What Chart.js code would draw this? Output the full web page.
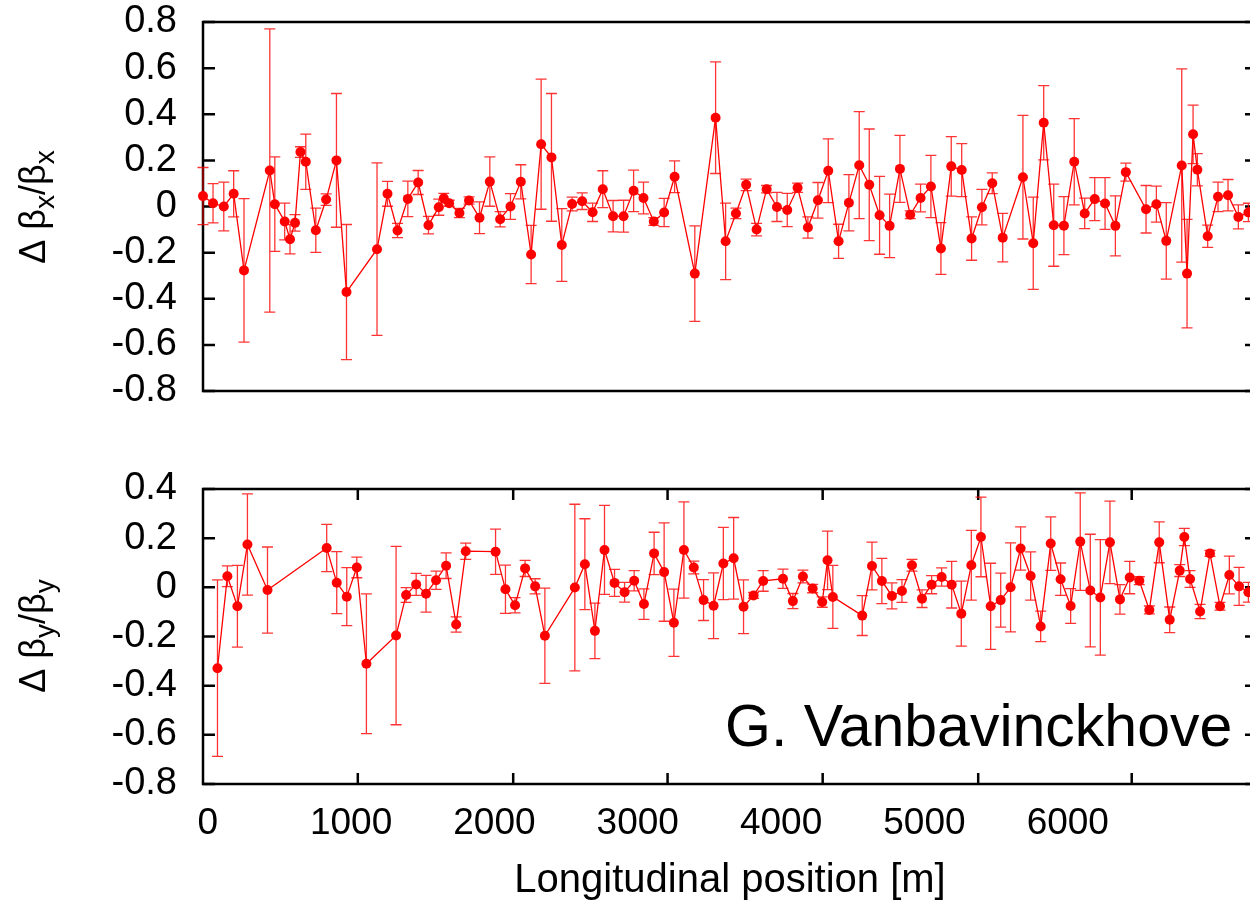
<!DOCTYPE html>
<html lang="en">
<head>
<meta charset="UTF-8">
<title>Beta-beating along the ring</title>
<script src="https://cdn.jsdelivr.net/npm/chart.js"></script>
<style>
  html, body { margin: 0; padding: 0; background: #fff; overflow: hidden; }
  #wrap { position: relative; width: 1250px; height: 911px; overflow: hidden; }
  canvas { position: absolute; left: 0; }
  #top { top: 0; }
  #bot { top: 430px; }
</style>
</head>
<body>
<div id="wrap">
  <canvas id="top" width="1270" height="430"></canvas>
  <canvas id="bot" width="1270" height="481"></canvas>
</div>
<script>
// horizontal plane: position [m], delta beta / beta, error
const posX = [-33, 37, 112, 181, 253, 433, 468, 537, 574, 609, 647, 684, 754, 826, 898, 968,
  1181, 1254, 1324, 1396, 1468, 1540, 1612, 1647, 1684, 1756, 1823, 1896, 1968, 2040,
  2112, 2184, 2256, 2326, 2398, 2470, 2542, 2612, 2685, 2756, 2828, 2901, 2971, 3040,
  3112, 3184, 3257, 3398, 3543, 3613, 3685, 3756, 3829, 3899, 3971, 4043, 4115, 4187,
  4257, 4329, 4401, 4473, 4545, 4615, 4687, 4757, 4829, 4901, 4973, 5045, 5115, 5187,
  5260, 5329, 5401, 5473, 5546, 5687, 5759, 5832, 5902, 5973, 6045, 6118, 6188, 6260,
  6332, 6405, 6546, 6618, 6687, 6795, 6832, 6874, 6904, 6976, 7048, 7118, 7190, 7260];
const betaX = [0.045, 0.014, 0.0, 0.055, -0.277, 0.156, 0.01, -0.065, -0.142, -0.071, 0.236, 0.194,
  -0.103, 0.03, 0.2, -0.371, -0.185, 0.055, -0.104, 0.033, 0.104, -0.081, -0.003, 0.036,
  0.014, -0.028, 0.026, -0.049, 0.108, -0.055, 0.0, 0.107, -0.208, 0.27, 0.213, -0.167,
  0.011, 0.023, -0.025, 0.075, -0.042, -0.042, 0.068, 0.037, -0.065, -0.026, 0.129, -0.291,
  0.385, -0.151, -0.03, 0.094, -0.1, 0.075, -0.002, -0.015, 0.081, -0.091, 0.027, 0.155,
  -0.151, 0.016, 0.179, 0.094, -0.038, -0.084, 0.163, -0.036, 0.037, 0.087, -0.182, 0.174,
  0.158, -0.139, -0.003, 0.101, -0.135, 0.127, -0.159, 0.363, -0.081, -0.083, 0.194, -0.03,
  0.032, 0.013, -0.084, 0.149, -0.012, 0.01, -0.149, 0.178, -0.291, 0.313, 0.159, -0.129,
  0.042, 0.049, -0.045, -0.026];
const errX = [0.124, 0.085, 0.106, 0.1, 0.311, 0.614, 0.205, 0.08, 0.063, 0.036, 0.023, 0.12,
  0.096, 0.025, 0.29, 0.293, 0.374, 0.054, 0.031, 0.077, 0.052, 0.038, 0.035, 0.021,
  0.013, 0.02, 0.016, 0.069, 0.107, 0.033, 0.056, 0.074, 0.126, 0.282, 0.277, 0.158,
  0.03, 0.036, 0.04, 0.08, 0.068, 0.069, 0.09, 0.069, 0.017, 0.061, 0.069, 0.207,
  0.242, 0.166, 0.023, 0.025, 0.027, 0.016, 0.063, 0.072, 0.02, 0.046, 0.077, 0.138,
  0.074, 0.122, 0.232, 0.242, 0.169, 0.138, 0.145, 0.017, 0.06, 0.135, 0.112, 0.129,
  0.115, 0.094, 0.077, 0.045, 0.105, 0.268, 0.2, 0.161, 0.178, 0.126, 0.187, 0.066,
  0.093, 0.112, 0.13, 0.039, 0.103, 0.078, 0.166, 0.419, 0.235, 0.127, 0.07, 0.048,
  0.064, 0.068, 0.052, 0.04];

// vertical plane
const posY = [68, 137, 207, 277, 417, 830, 900, 970, 1040, 1107, 1314, 1384, 1454, 1523, 1593,
  1663, 1733, 1800, 2008, 2077, 2144, 2214, 2284, 2352, 2561, 2631, 2701, 2768, 2838,
  2908, 2975, 3043, 3114, 3184, 3252, 3322, 3391, 3459, 3529, 3597, 3669, 3738, 3808,
  3875, 4013, 4082, 4152, 4220, 4287, 4324, 4361, 4566, 4634, 4703, 4773, 4843, 4913,
  4983, 5050, 5120, 5190, 5257, 5327, 5394, 5462, 5532, 5601, 5671, 5741, 5811, 5881,
  5950, 6020, 6087, 6157, 6227, 6294, 6364, 6432, 6499, 6569, 6638, 6711, 6781, 6813,
  6853, 6923, 6992, 7062, 7127, 7195, 7260];
const betaY = [-0.329, 0.045, -0.077, 0.174, -0.011, 0.16, 0.019, -0.038, 0.081, -0.311, -0.196,
  -0.031, 0.012, -0.026, 0.029, 0.088, -0.151, 0.147, 0.145, -0.008, -0.073, 0.077, 0.004,
  -0.197, -0.001, 0.094, -0.177, 0.152, 0.018, -0.02, 0.027, -0.068, 0.138, 0.062, -0.144,
  0.152, 0.081, -0.052, -0.075, 0.097, 0.118, -0.079, -0.033, 0.026, 0.035, -0.056, 0.044,
  -0.005, -0.06, 0.11, -0.039, -0.115, 0.087, 0.026, -0.035, -0.015, 0.09, -0.046, 0.011,
  0.042, 0.011, -0.107, 0.09, 0.205, -0.077, -0.052, 0.0, 0.158, 0.046, -0.159, 0.178,
  0.033, -0.076, 0.186, -0.013, -0.041, 0.183, -0.049, 0.04, 0.027, -0.092, 0.183, -0.132,
  0.068, 0.205, 0.034, -0.098, 0.138, -0.077, 0.05, 0.004, -0.02];
const errY = [0.359, 0.042, 0.166, 0.206, 0.175, 0.096, 0.126, 0.118, 0.042, 0.284, 0.363,
  0.03, 0.045, 0.075, 0.037, 0.052, 0.031, 0.033, 0.092, 0.098, 0.031, 0.033, 0.031,
  0.194, 0.339, 0.185, 0.113, 0.181, 0.055, 0.04, 0.041, 0.062, 0.086, 0.2, 0.137,
  0.196, 0.026, 0.083, 0.134, 0.147, 0.166, 0.109, 0.012, 0.042, 0.039, 0.031, 0.026,
  0.017, 0.021, 0.119, 0.128, 0.081, 0.097, 0.092, 0.053, 0.046, 0.024, 0.036, 0.037,
  0.037, 0.095, 0.132, 0.142, 0.162, 0.175, 0.11, 0.181, 0.088, 0.098, 0.062, 0.109,
  0.066, 0.071, 0.198, 0.229, 0.235, 0.168, 0.06, 0.066, 0.016, 0.016, 0.083, 0.052,
  0.024, 0.035, 0.034, 0.029, 0.012, 0.016, 0.077, 0.077, 0.04];

const xTicks = [0, 1000, 2000, 3000, 4000, 5000, 6000];
const xMarkTicks = [1047, 2131, 3208, 4290, 5375, 6446];   // tick marks of lower frame
const yTicksTop = [-0.8, -0.6, -0.4, -0.2, 0, 0.2, 0.4, 0.6, 0.8];
const yTicksBot = [-0.8, -0.6, -0.4, -0.2, 0, 0.2, 0.4];
const X_MIN = -33, X_MAX = 7320;

const FONT = 'Liberation Sans';
const NARROW = '"Liberation Sans Narrow", "Liberation Sans"';
const RED = '#ff0000';

// frame with inward tick marks, gnuplot style
function framePlugin(yTicks, xMarks) {
  return {
    id: 'frame',
    beforeDatasetsDraw(chart) {
      const { ctx, chartArea: a, scales } = chart;
      ctx.save();
      ctx.strokeStyle = '#000';
      ctx.lineWidth = 2.5;
      ctx.strokeRect(a.left, a.top, a.right - a.left, a.bottom - a.top);
      ctx.beginPath();
      yTicks.forEach(v => {
        const y = scales.y.getPixelForValue(v);
        ctx.moveTo(a.left, y); ctx.lineTo(a.left + 12, y);
        ctx.moveTo(a.right, y); ctx.lineTo(a.right - 12, y);
      });
      xMarks.forEach(v => {
        const x = scales.x.getPixelForValue(v);
        ctx.moveTo(x, a.top); ctx.lineTo(x, a.top + 11);
        ctx.moveTo(x, a.bottom); ctx.lineTo(x, a.bottom - 11);
      });
      ctx.stroke();
      ctx.restore();
    }
  };
}

function errorBarPlugin(xs, ys, errs) {
  return {
    id: 'errbars',
    beforeDatasetsDraw(chart) {
      const { ctx, scales: { x, y } } = chart;
      ctx.save();
      ctx.strokeStyle = 'rgba(255,0,0,0.8)';
      ctx.lineWidth = 1.3;
      ctx.beginPath();
      xs.forEach((p, i) => {
        const px = x.getPixelForValue(p);
        const y1 = y.getPixelForValue(ys[i] + errs[i]);
        const y2 = y.getPixelForValue(ys[i] - errs[i]);
        ctx.moveTo(px, y1); ctx.lineTo(px, y2);
        ctx.moveTo(px - 5.5, y1); ctx.lineTo(px + 5.5, y1);
        ctx.moveTo(px - 5.5, y2); ctx.lineTo(px + 5.5, y2);
      });
      ctx.stroke();
      ctx.restore();
    }
  };
}

// rotated y label with subscripts:  Δ β_s / β_s
function yLabelPlugin(sub, cx, cy) {
  return {
    id: 'ylabel',
    afterDraw(chart) {
      const ctx = chart.ctx;
      const main = '36px "' + FONT + '"', small = '28px "' + FONT + '"';
      const parts = [['\u0394 \u03b2', main, 0], [sub, small, 9], ['/\u03b2', main, 0], [sub, small, 9]];
      ctx.save();
      ctx.translate(cx, cy);
      ctx.rotate(-Math.PI / 2);
      ctx.fillStyle = '#000';
      ctx.textBaseline = 'alphabetic';
      let w = 0;
      parts.forEach(p => { ctx.font = p[1]; w += ctx.measureText(p[0]).width; });
      let x = -w / 2;
      parts.forEach(p => {
        ctx.font = p[1];
        ctx.fillText(p[0], x, p[2]);
        x += ctx.measureText(p[0]).width;
      });
      ctx.restore();
    }
  };
}

const signature = {
  id: 'signature',
  afterDraw(chart) {
    const ctx = chart.ctx;
    ctx.save();
    ctx.font = '59px "' + FONT + '"';
    ctx.fillStyle = '#000';
    ctx.textBaseline = 'alphabetic';
    ctx.fillText('G. Vanbavinckhove', 725, 316);
    ctx.restore();
  }
};

// keep the frame exactly where the layout padding puts it
function noOverflow(s) {
  s.paddingTop = 0; s.paddingBottom = 0; s.paddingLeft = 0; s.paddingRight = 0;
}

function makeChart(id, xs, ys, errs, yTicks, yMin, yMax, o) {
  return new Chart(document.getElementById(id), {
    type: 'scatter',
    data: {
      datasets: [{
        data: xs.map((x, i) => ({ x: x, y: ys[i] })),
        showLine: true,
        borderColor: RED,
        borderWidth: 1.3,
        pointRadius: 5,
        pointHoverRadius: 5,
        pointBackgroundColor: RED,
        pointBorderWidth: 0,
        clip: false
      }]
    },
    options: {
      responsive: false,
      animation: false,
      devicePixelRatio: 1,
      layout: { padding: { left: 0, right: 13, top: o.padTop, bottom: 0 } },
      plugins: { legend: { display: false }, tooltip: { enabled: false } },
      scales: {
        x: {
          type: 'linear',
          min: X_MIN,
          max: X_MAX,
          afterBuildTicks: s => { s.ticks = xTicks.map(v => ({ value: v })); },
          ticks: {
            display: o.xLabels, font: { family: NARROW, size: 37 }, color: '#000', padding: 18,
            maxRotation: 0, autoSkip: false, callback: v => String(v)
          },
          grid: { display: false, drawTicks: false },
          border: { display: false },
          title: {
            display: o.xLabels,
            text: 'Longitudinal position [m]',
            font: { family: FONT, size: 40 },
            color: '#000',
            padding: { top: 0, bottom: 6 }
          },
          afterFit: s => { s.height = o.xHeight; noOverflow(s); }
        },
        y: {
          min: yMin,
          max: yMax,
          afterBuildTicks: s => { s.ticks = yTicks.map(v => ({ value: v })); },
          ticks: { font: { family: FONT, size: 38 }, color: '#000', padding: 26, autoSkip: false, callback: v => String(v) },
          grid: { display: false, drawTicks: false },
          border: { display: false },
          afterFit: s => { s.width = 203; noOverflow(s); }
        }
      }
    },
    plugins: o.plugins
  });
}

makeChart('top', posX, betaX, errX, yTicksTop, -0.8, 0.8, {
  padTop: 22, xHeight: 39, xLabels: false,
  plugins: [framePlugin(yTicksTop, []), errorBarPlugin(posX, betaX, errX), yLabelPlugin('x', 45, 207)]
});

makeChart('bot', posY, betaY, errY, yTicksBot, -0.8, 0.4, {
  padTop: 59, xHeight: 127, xLabels: true,
  plugins: [framePlugin(yTicksBot, xMarkTicks), errorBarPlugin(posY, betaY, errY), yLabelPlugin('y', 45, 206), signature]
});
</script>
</body>
</html>
